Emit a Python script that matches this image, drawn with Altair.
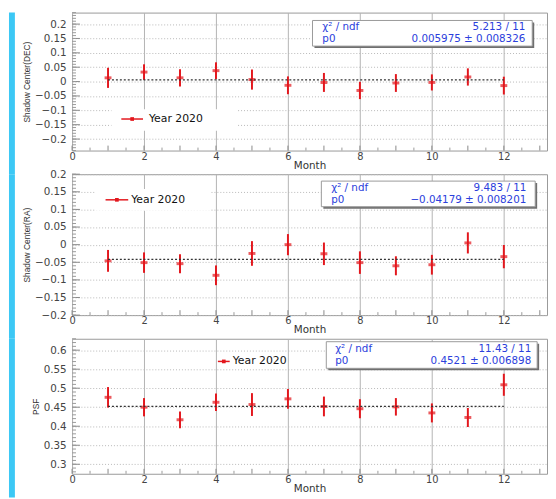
import altair as alt
import pandas as pd
import numpy as np

# ---------------- data ----------------
months = list(range(1, 13))

dec_vals = [0.013, 0.033, 0.013, 0.038, 0.007, -0.013, -0.003, -0.031, -0.005, -0.003, 0.016, -0.014]
dec_errs = [0.035, 0.027, 0.030, 0.029, 0.035, 0.031, 0.033, 0.030, 0.031, 0.028, 0.030, 0.031]

ra_vals = [-0.046, -0.051, -0.054, -0.087, -0.025, 0.000, -0.026, -0.051, -0.060, -0.057, 0.005, -0.034]
ra_errs = [0.031, 0.029, 0.027, 0.028, 0.035, 0.030, 0.032, 0.032, 0.027, 0.028, 0.030, 0.033]

psf_vals = [0.476, 0.450, 0.417, 0.463, 0.457, 0.472, 0.452, 0.446, 0.451, 0.435, 0.423, 0.509]
psf_errs = [0.027, 0.024, 0.022, 0.023, 0.030, 0.026, 0.026, 0.025, 0.023, 0.025, 0.025, 0.029]

fit_dec = 0.005975
fit_ra = -0.04179
fit_psf = 0.4521
fit_range = [1, 12]

stats_dec = ["\u03c7\u00b2 / ndf", "5.213 / 11", "p0", "0.005975 \u00b1 0.008326"]
stats_ra = ["\u03c7\u00b2 / ndf", "9.483 / 11", "p0", "\u22120.04179 \u00b1 0.008201"]
stats_psf = ["\u03c7\u00b2 / ndf", "11.43 / 11", "p0", "0.4521 \u00b1 0.006898"]

legend_label = "Year 2020"
x_title = "Month"
x_labels = [0, 2, 4, 6, 8, 10, 12]
x_domain = [0, 13.2]

RED = "#e3171d"
BLUE = "#2b40dc"
FONT = "DejaVu Sans"
W = 482


def vals_range(a, b, step):
    n = int(round((b - a) / step))
    return [round(a + i * step, 4) for i in range(n + 1)]


def panel(vals, errs, fit, ydom, ymajor, yminor, ytitle, stats, h, strip_h,
          leg, box):
    df = pd.DataFrame({
        "month": months,
        "val": vals,
        "lo": [v - e for v, e in zip(vals, errs)],
        "hi": [v + e for v, e in zip(vals, errs)],
    })
    xscale = alt.Scale(domain=x_domain, nice=False, zero=False)
    yscale = alt.Scale(domain=ydom, nice=False, zero=False)
    xaxis = alt.Axis(values=x_labels, title=x_title, grid=True, gridColor="#b3b3b3",
                     gridWidth=1, ticks=False, domain=False, labelPadding=1,
                     labelFlush=False, labelOverlap=False, format="~g",
                     labelFont=FONT, labelFontSize=10, labelColor="#444",
                     titleFont=FONT, titleFontSize=10.5, titleFontWeight="normal",
                     titleColor="#333", titlePadding=-1)
    yaxis = alt.Axis(values=ymajor, title=ytitle, grid=True, gridColor="#b8b8b8",
                     gridDash=[1, 2], ticks=False, domain=False, labelPadding=6,
                     labelOverlap=False, format="~g", labelFont=FONT,
                     labelFontSize=10.5, labelColor="#444",
                     titleFont="Liberation Sans", titleFontSize=8.5,
                     titleFontWeight="normal", titleColor="#333", titlePadding=3)

    def X(f):
        return alt.X(f, scale=xscale, axis=xaxis)

    def Y(f):
        return alt.Y(f, scale=yscale, axis=yaxis)

    err = alt.Chart(df).mark_rule(color=RED, strokeWidth=2).encode(
        x=X("month:Q"), y=Y("lo:Q"), y2="hi:Q")
    mk = alt.Chart(df).mark_tick(orient="horizontal", color=RED, size=7,
                                 thickness=3).encode(x=X("month:Q"), y=Y("val:Q"))

    fdf = pd.DataFrame({"month": [fit_range[0]], "month2": [fit_range[1]], "val": [fit]})
    fitl = alt.Chart(fdf).mark_rule(color="#333", strokeDash=[2, 2],
                                    strokeWidth=1.1).encode(
        x=X("month:Q"), x2="month2:Q", y=Y("val:Q"))

    ymaj = alt.Chart(pd.DataFrame({"val": ymajor})).mark_rule(
        color="#888").encode(y=Y("val:Q"), x=alt.value(0), x2=alt.value(8))
    ymin = alt.Chart(pd.DataFrame({"val": yminor})).mark_rule(
        color="#999").encode(y=Y("val:Q"), x=alt.value(0), x2=alt.value(4))
    xmaj = alt.Chart(pd.DataFrame({"month": vals_range(0, 13, 1.0)})).mark_rule(
        color="#888").encode(x=X("month:Q"), y=alt.value(h), y2=alt.value(h - 5))
    xmin = alt.Chart(pd.DataFrame({"month": vals_range(0.5, 13, 1.0)})).mark_rule(
        color="#999").encode(x=X("month:Q"), y=alt.value(h), y2=alt.value(h - 3))

    dummy = pd.DataFrame({"d": [0]})
    layers = [err, mk, fitl, ymaj, ymin, xmaj, xmin]

    # left cyan strip
    layers.append(alt.Chart(dummy).mark_rect(fill="#3cc8f5").encode(
        x=alt.value(-64), x2=alt.value(-58), y=alt.value(0), y2=alt.value(strip_h)))

    # legend
    if leg.get("box"):
        bx = leg["box"]
        layers.append(alt.Chart(dummy).mark_rect(fill="white").encode(
            x=alt.value(bx[0]), x2=alt.value(bx[1]), y=alt.value(bx[2]), y2=alt.value(bx[3])))
    layers.append(alt.Chart(dummy).mark_rule(color=RED, strokeWidth=1.5).encode(
        x=alt.value(leg["line"][0]), x2=alt.value(leg["line"][1]),
        y=alt.value(leg["y"])))
    layers.append(alt.Chart(dummy).mark_point(shape="square", filled=True, color=RED,
                                              size=14, opacity=1).encode(
        x=alt.value((leg["line"][0] + leg["line"][1]) / 2), y=alt.value(leg["y"])))
    layers.append(alt.Chart(dummy).mark_text(align="left", baseline="middle", font=FONT,
                                             fontSize=11, color="#111").encode(
        x=alt.value(leg["text"]), y=alt.value(leg["y"]), text=alt.value(legend_label)))

    # stats box
    x0, x1, y0, y1 = box["rect"]
    layers.append(alt.Chart(dummy).mark_rect(fill="#6f6f6f").encode(
        x=alt.value(x0 + 2), x2=alt.value(x1 + 2), y=alt.value(y0 + 2), y2=alt.value(y1 + 2)))
    layers.append(alt.Chart(dummy).mark_rect(fill="white", stroke="#999",
                                             strokeWidth=1).encode(
        x=alt.value(x0), x2=alt.value(x1), y=alt.value(y0), y2=alt.value(y1)))
    for i, (lt, rt) in enumerate([(stats[0], stats[1]), (stats[2], stats[3])]):
        yy = box["rows"][i]
        layers.append(alt.Chart(dummy).mark_text(align="left", baseline="middle",
                                                 font=FONT, fontSize=10.5,
                                                 color=BLUE).encode(
            x=alt.value(box["tl"]), y=alt.value(yy), text=alt.value(lt)))
        layers.append(alt.Chart(dummy).mark_text(align="right", baseline="middle",
                                                 font=FONT, fontSize=10.5,
                                                 color=BLUE).encode(
            x=alt.value(box["tr"]), y=alt.value(yy), text=alt.value(rt)))

    return alt.layer(*layers).properties(width=W, height=h)


H1, H2, H3 = 140, 143, 137
SP = 24

p1 = panel(dec_vals, dec_errs, fit_dec, [-0.24, 0.24],
           vals_range(-0.2, 0.2, 0.05), vals_range(-0.24, 0.24, 0.01),
           "Shadow Center(DEC)", stats_dec, H1, H1 + SP,
           {"box": [40, 168, 98, 120], "line": [50, 72], "y": 108, "text": 78},
           {"rect": [244, 467, 8, 34], "rows": [15, 27], "tl": 254, "tr": 460})

p2 = panel(ra_vals, ra_errs, fit_ra, [-0.2, 0.2],
           vals_range(-0.2, 0.2, 0.05), vals_range(-0.2, 0.2, 0.01),
           "Shadow Center(RA)", stats_ra, H2, H2 + SP,
           {"box": [24, 140, 15, 37], "line": [34, 57], "y": 26, "text": 60},
           {"rect": [253, 470, 7, 33], "rows": [14, 26], "tl": 263, "tr": 461})

p3 = panel(psf_vals, psf_errs, fit_psf, [0.275, 0.63],
           vals_range(0.3, 0.6, 0.05), vals_range(0.28, 0.63, 0.01),
           "PSF", stats_psf, H3, H3 + 24,
           {"line": [148, 160], "y": 23, "text": 163},
           {"rect": [258, 472, 3, 30], "rows": [10.5, 22.5], "tl": 267, "tr": 466})

chart = alt.vconcat(p1, p2, p3, spacing=SP, bounds="flush").properties(
    padding={"left": 0, "top": 0, "right": 0, "bottom": 0},
    background="white",
).configure_view(stroke="#999", strokeWidth=1)

chart.save("out.html", embed_options={"renderer": "svg", "actions": False})
